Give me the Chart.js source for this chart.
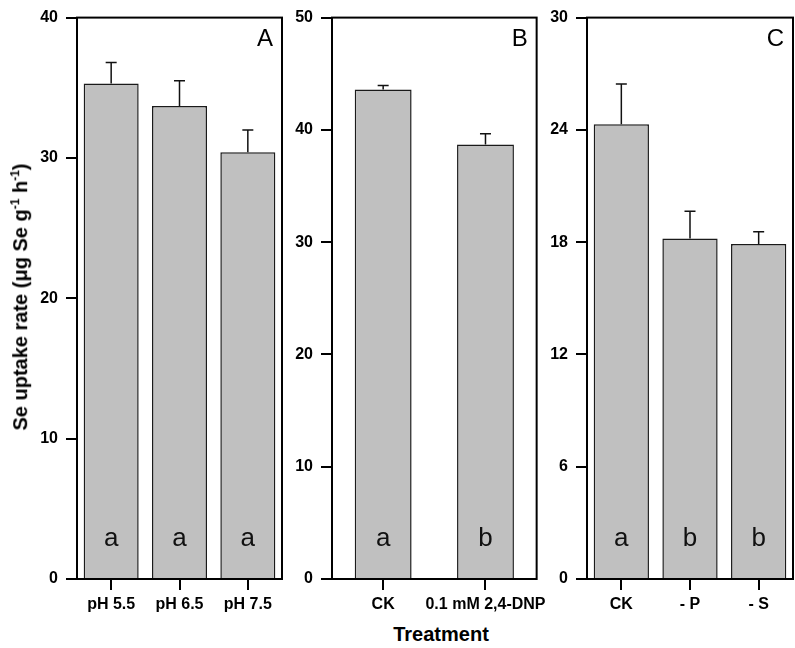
<!DOCTYPE html>
<html>
<head>
<meta charset="utf-8">
<script src="https://cdn.jsdelivr.net/npm/chart.js@4"></script>
<style>
  body { margin: 0; background: #fff; width: 795px; height: 648px; position: relative; overflow: hidden; }
  canvas { position: absolute; top: 0; }
  .lbl { position: absolute; font-family: "Liberation Sans", Arial, sans-serif; font-weight: bold; font-size: 20px; color: #000; white-space: nowrap; }
  .lbl sup { font-size: 12px; }
</style>
</head>
<body>
<canvas id="panelA" width="260" height="619" style="left:30px"></canvas>
<canvas id="panelB" width="265" height="619" style="left:290px"></canvas>
<canvas id="panelC" width="250" height="619" style="left:545px"></canvas>
<div class="lbl" style="left:20px; top:297px; transform: translate(-50%, -50%) rotate(-90deg);">Se uptake rate (&mu;g Se g<sup>-1</sup> h<sup>-1</sup>)</div>
<div class="lbl" style="left:441px; top:634px; transform: translate(-50%, -50%);">Treatment</div>
<script>
// panel A - pH
var phLabels = ['pH 5.5', 'pH 6.5', 'pH 7.5'];
var phRate = [35.3, 33.7, 30.4];
var phErr = [1.5, 1.8, 1.6];
var phGroups = ['a', 'a', 'a'];

// panel B - uncoupler
var dnpLabels = ['CK', '0.1 mM 2,4-DNP'];
var dnpRate = [43.6, 38.7];
var dnpErr = [0.35, 0.95];
var dnpGroups = ['a', 'b'];

// panel C - nutrient starvation
var nutLabels = ['CK', '- P', '- S'];
var nutRate = [24.3, 18.2, 17.9];
var nutErr = [2.15, 1.45, 0.65];
var nutGroups = ['a', 'b', 'b'];

var FONT = '"Liberation Sans", Arial, sans-serif';

// frame, error bars, letters
var panelPlugin = {
    id: 'panel',
    afterDatasetsDraw: function(chart, args, opts) {
        var ctx = chart.ctx,
            area = chart.chartArea,
            xs = chart.scales.x,
            ys = chart.scales.y,
            values = chart.data.datasets[0].data;

        ctx.save();
        ctx.strokeStyle = '#111';
        ctx.lineWidth = 1.5;
        values.forEach(function(v, i) {
            var x = xs.getPixelForValue(i),
                y0 = ys.getPixelForValue(v),
                y1 = ys.getPixelForValue(v + opts.errors[i]);
            ctx.beginPath();
            ctx.moveTo(x, y0);
            ctx.lineTo(x, y1);
            ctx.moveTo(x - 5.5, y1);
            ctx.lineTo(x + 5.5, y1);
            ctx.stroke();
        });

        // significance letters
        ctx.fillStyle = '#111';
        ctx.font = '26px ' + FONT;
        ctx.textAlign = 'center';
        ctx.textBaseline = 'alphabetic';
        opts.groups.forEach(function(g, i) {
            ctx.fillText(g, xs.getPixelForValue(i), area.bottom - 33);
        });

        // box round the plot
        ctx.strokeStyle = '#000';
        ctx.lineWidth = 2;
        ctx.strokeRect(area.left, area.top, area.right - area.left, area.bottom - area.top);

        // panel letter
        ctx.fillStyle = '#000';
        ctx.font = '24px ' + FONT;
        ctx.textAlign = 'right';
        ctx.fillText(opts.letter, area.right - 9, area.top + 28);
        ctx.restore();
    }
};

function makePanel(id, labels, values, errors, groups, letter, yMax, yStep, yWidth, barPct, rightPad) {
    return new Chart(document.getElementById(id), {
        type: 'bar',
        data: {
            labels: labels,
            datasets: [{
                data: values,
                backgroundColor: '#c0c0c0',
                borderColor: '#1a1a1a',
                borderWidth: 1.5,
                barPercentage: barPct,
                categoryPercentage: 1
            }]
        },
        options: {
            responsive: false,
            animation: false,
            layout: { padding: { top: 15, right: rightPad, left: 0, bottom: 0 } },
            plugins: {
                legend: { display: false },
                tooltip: { enabled: false },
                panel: { errors: errors, groups: groups, letter: letter }
            },
            scales: {
                x: {
                    grid: { display: true, drawOnChartArea: false, offset: false, tickLength: 11, color: '#000', lineWidth: 2 },
                    border: { display: false },
                    ticks: { color: '#000', padding: 5, autoSkip: false, maxRotation: 0, font: { family: FONT, size: 16, weight: 'bold' } },
                    afterFit: function(scale) { scale.height = 40; }
                },
                y: {
                    min: 0,
                    max: yMax,
                    grid: { drawOnChartArea: false, tickLength: 11, color: '#000', lineWidth: 2 },
                    border: { display: false },
                    ticks: { stepSize: yStep, color: '#000', padding: 8, font: { family: FONT, size: 16, weight: 'bold' } },
                    afterFit: function(scale) { scale.width = yWidth; }
                }
            }
        },
        plugins: [panelPlugin]
    });
}

makePanel('panelA', phLabels, phRate, phErr, phGroups, 'A', 40, 10, 47, 0.805, 8);
makePanel('panelB', dnpLabels, dnpRate, dnpErr, dnpGroups, 'B', 50, 10, 42, 0.556, 18);
makePanel('panelC', nutLabels, nutRate, nutErr, nutGroups, 'C', 30, 6, 42, 0.805, 2);
</script>
</body>
</html>
